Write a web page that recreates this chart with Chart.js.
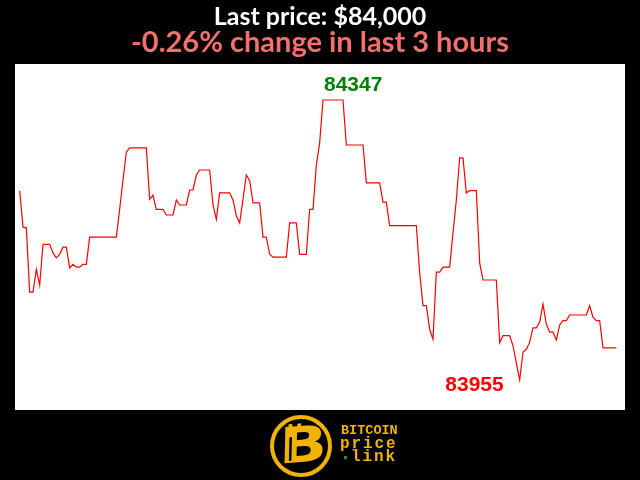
<!DOCTYPE html>
<html>
<head>
<meta charset="utf-8">
<script src="https://cdn.jsdelivr.net/npm/chart.js@4"></script>
<style>
  html, body { margin: 0; padding: 0; background: #000; }
  #wrap { position: relative; width: 640px; height: 480px; }
</style>
</head>
<body>
<div id="wrap"><canvas id="priceChart" width="640" height="480"></canvas></div>
<script>
// --- data: one price per minute over the last 3 hours ---
const minutes = Array.from({ length: 180 }, (_, i) => i);
const prices = [
  84220, 84169, 84168, 84078, 84078, 84110, 84088, 84145, 84145, 84145,
  84133, 84126, 84131, 84141, 84141, 84112, 84117, 84113, 84113, 84117,
  84117, 84155, 84155, 84155, 84155, 84155, 84155, 84155, 84155, 84155,
  84194, 84235, 84274, 84280, 84280, 84280, 84280, 84280, 84280, 84208,
  84214, 84194, 84194, 84194, 84186, 84186, 84186, 84207, 84200, 84200,
  84200, 84221, 84221, 84242, 84249, 84249, 84249, 84249, 84200, 84180,
  84217, 84217, 84217, 84217, 84207, 84185, 84175, 84208, 84242, 84234,
  84203, 84203, 84203, 84155, 84155, 84131, 84127, 84127, 84127, 84127,
  84127, 84175, 84175, 84175, 84131, 84131, 84131, 84194, 84194, 84256,
  84287, 84347, 84347, 84347, 84347, 84347, 84347, 84347, 84284, 84284,
  84284, 84284, 84284, 84284, 84231, 84231, 84231, 84231, 84231, 84204,
  84204, 84171, 84171, 84171, 84171, 84171, 84171, 84171, 84171, 84171,
  84105, 84059, 84059, 84026, 84012, 84106, 84106, 84113, 84113, 84113,
  84161, 84207, 84266, 84266, 84217, 84220, 84220, 84220, 84119, 84095,
  84095, 84095, 84095, 84095, 84007, 84017, 84017, 84017, 84003, 83979,
  83955, 83994, 83998, 84008, 84028, 84028, 84036, 84061, 84033, 84022,
  84022, 84011, 84032, 84038, 84038, 84046, 84046, 84046, 84046, 84046,
  84046, 84059, 84043, 84038, 84038, 84000, 84000, 84000, 84000, 84000
];
const titleText = 'Last price: $84,000';
const subtitleText = '-0.26% change in last 3 hours';

const gold = '#f0b400';

// white plot background + titles + high/low labels + logo
const decorations = {
  id: 'decorations',
  beforeDraw(chart) {
    const { ctx, chartArea: a } = chart;
    ctx.save();
    ctx.fillStyle = '#000';
    ctx.fillRect(0, 0, chart.width, chart.height);
    ctx.fillStyle = '#fff';
    ctx.fillRect(a.left, a.top, a.right - a.left, a.bottom - a.top);
    ctx.restore();
  },
  afterDraw(chart) {
    const { ctx, scales: { x, y } } = chart;
    ctx.save();

    // titles
    ctx.textAlign = 'center';
    ctx.textBaseline = 'alphabetic';
    ctx.fillStyle = '#fff';
    ctx.font = 'bold 25px Lato';
    ctx.fillText(titleText, 320, 25);
    ctx.fillStyle = '#f66f6f';
    ctx.font = 'bold 29px Lato';
    ctx.fillText(subtitleText, 320, 52);

    // high / low
    const hi = Math.max(...prices), lo = Math.min(...prices);
    const hiIdx = prices.indexOf(hi), loIdx = prices.indexOf(lo);
    ctx.font = 'bold 21px "Liberation Sans"';
    ctx.fillStyle = '#008000';
    ctx.textAlign = 'left';
    ctx.fillText(String(hi), x.getPixelForValue(hiIdx) + 1, y.getPixelForValue(hi) - 9);
    ctx.fillStyle = '#ff0000';
    ctx.textAlign = 'right';
    ctx.fillText(String(lo), x.getPixelForValue(loIdx) - 16, y.getPixelForValue(lo) + 11);

    // logo
    const cx = 301, cy = 446;
    ctx.strokeStyle = gold;
    ctx.lineWidth = 4;
    ctx.beginPath();
    ctx.arc(cx, cy, 29, 0, Math.PI * 2);
    ctx.stroke();
    ctx.fillStyle = gold;
    ctx.save();
    ctx.translate(cx + 2, cy + 3);
    ctx.transform(1.25, 0, -0.15, 1, 0, 0);
    ctx.rotate(-0.1);
    ctx.font = '900 50px "DejaVu Sans"';
    ctx.textAlign = 'center';
    ctx.textBaseline = 'middle';
    ctx.fillText('B', 0, 0);
    ctx.fillRect(-12, -26, 3, 7);
    ctx.fillRect(-5, -26, 3, 7);
    ctx.fillStyle = '#000';
    ctx.fillRect(-11, -13, 2, 24);
    ctx.restore();

    ctx.fillStyle = gold;
    ctx.textAlign = 'left';
    ctx.textBaseline = 'alphabetic';
    ctx.font = 'bold 13.5px "Liberation Mono"';
    ctx.fillText('BITCOIN', 341, 434);
    ctx.font = 'bold 16px "Liberation Mono"';
    let px = 340;
    for (const ch of 'price') { ctx.fillText(ch, px, 448); px += 11.5; }
    px = 351;
    for (const ch of 'link') { ctx.fillText(ch, px, 461); px += 11.5; }
    ctx.fillStyle = '#1c9a1c';
    ctx.fillRect(344, 456, 3, 3);
    ctx.restore();
  }
};

new Chart(document.getElementById('priceChart'), {
  type: 'line',
  data: {
    datasets: [{
      data: prices.map((p, i) => ({ x: minutes[i], y: p })),
      borderColor: '#ff0000',
      borderWidth: 1.2,
      pointRadius: 0,
      tension: 0,
      fill: false
    }]
  },
  options: {
    responsive: false,
    animation: false,
    layout: { padding: { top: 64, left: 15, right: 15, bottom: 70 } },
    scales: {
      x: { type: 'linear', display: false, min: -1.4, max: 181.6 },
      y: { display: false, min: 83913, max: 84397.4 }
    },
    plugins: {
      legend: { display: false },
      tooltip: { enabled: false }
    }
  },
  plugins: [decorations]
});
</script>
</body>
</html>
